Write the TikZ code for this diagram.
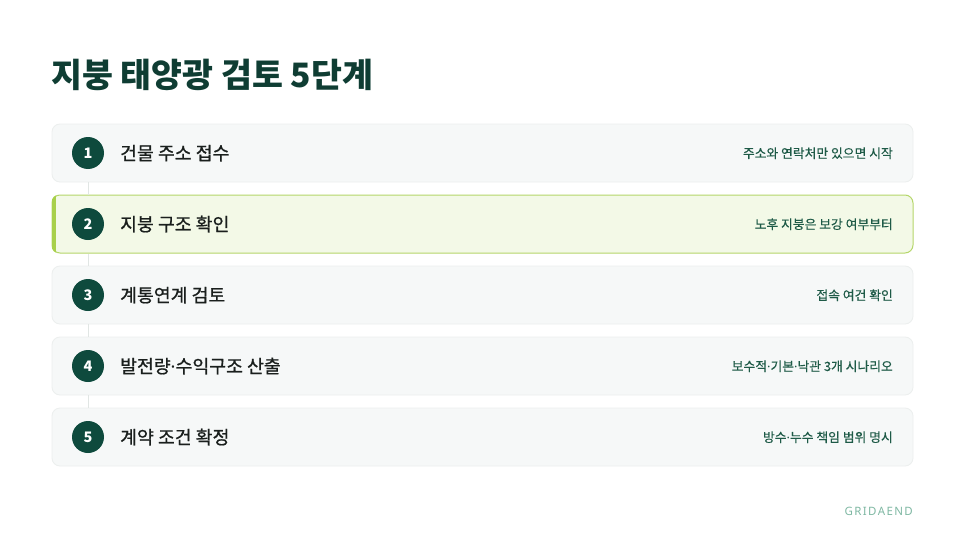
\documentclass[tikz,border=0pt]{standalone}
\usepackage{fontspec}
\setmainfont{Noto Sans CJK KR}
\newfontfamily\labfont[FakeBold=0.9]{Noto Sans CJK KR}
\newfontfamily\notefont[FakeBold=0.3]{Noto Sans CJK KR}
\newfontfamily\latinfont{Noto Sans}
\newfontfamily\brandfont[LetterSpace=12]{Noto Sans}
\newcommand\mdot{{\latinfont ·}}
\usetikzlibrary{calc}
\definecolor{titlecol}{HTML}{0F3D33}
\definecolor{circcol}{HTML}{0E4A3D}
\definecolor{labcol}{HTML}{1A1F1D}
\definecolor{notecol}{HTML}{1E5A47}
\definecolor{brandcol}{HTML}{7FB8A3}
\definecolor{boxfill}{HTML}{F6F8F8}
\definecolor{boxline}{HTML}{ECEFEE}
\definecolor{hifill}{HTML}{F3F9E7}
\definecolor{hiline}{HTML}{B5D66A}
\definecolor{hibar}{HTML}{A8D04A}
\definecolor{conncol}{HTML}{E1E6E4}
\tikzset{
  rowbox/.style={draw=boxline, line width=0.8pt, fill=boxfill, rounded corners=8pt,
    minimum width=861pt, minimum height=58pt, inner sep=0pt},
  hibox/.style={rowbox, draw=hiline, fill=hifill, line width=1pt},
  numcirc/.style={circle, fill=circcol, minimum size=32pt, inner sep=0pt,
    text=white, font=\bfseries\fontsize{14.5}{14.5}\selectfont},
  steplabel/.style={anchor=base west, inner sep=0pt, text=labcol,
    font=\labfont\fontsize{18.3}{18.3}\selectfont},
  steptext/.style={anchor=base east, inner sep=0pt, text=notecol,
    font=\notefont\fontsize{12.8}{12.8}\selectfont},
  conn/.style={draw=conncol, line width=1pt}
}
\begin{document}
\begin{tikzpicture}[x=1pt,y=-1pt]
\useasboundingbox[fill=white] (0,0) rectangle (966,551);
\node[anchor=base west, inner sep=0pt, text=titlecol, font=\bfseries\fontsize{33.6}{33.6}\selectfont] (title) at (51,88) {지붕 태양광 검토 5단계};
% boxes
\node[rowbox] (b1) at (482.5,153) {};
\node[hibox] (b2) at (482.5,224) {};
\begin{scope}
  \clip[rounded corners=8pt] (b2.south west) rectangle (b2.north east);
  \fill[hibar] (b2.south west) rectangle ($(b2.north west)+(4.5,0)$);
\end{scope}
\node[rowbox] (b3) at (482.5,295) {};
\node[rowbox] (b4) at (482.5,366) {};
\node[rowbox] (b5) at (482.5,437) {};
% circles
\node[numcirc] (c1) at (88,153) {1};
\node[numcirc] (c2) at (88,224) {2};
\node[numcirc] (c3) at (88,295) {3};
\node[numcirc] (c4) at (88,366) {4};
\node[numcirc] (c5) at (88,437) {5};
% connectors
\draw[conn] (c1 |- b1.south) -- (c2 |- b2.north);
\draw[conn] (c2 |- b2.south) -- (c3 |- b3.north);
\draw[conn] (c3 |- b3.south) -- (c4 |- b4.north);
\draw[conn] (c4 |- b4.south) -- (c5 |- b5.north);
% labels
\node[steplabel] (l1) at (120,160) {건물 주소 접수};
\node[steplabel] (l2) at (120,231) {지붕 구조 확인};
\node[steplabel] (l3) at (120,302) {계통연계 검토};
\node[steplabel] (l4) at (120,373) {발전량\mdot 수익구조 산출};
\node[steplabel] (l5) at (120,444) {계약 조건 확정};
% notes
\node[steptext] (n1) at (893,158) {주소와 연락처만 있으면 시작};
\node[steptext] (n2) at (893,229) {노후 지붕은 보강 여부부터};
\node[steptext] (n3) at (893,300) {접속 여건 확인};
\node[steptext] (n4) at (893,371) {보수적\mdot 기본\mdot 낙관 3개 시나리오};
\node[steptext] (n5) at (893,442) {방수\mdot 누수 책임 범위 명시};
\node[anchor=base east, inner sep=0pt, text=brandcol, font=\brandfont\fontsize{11.5}{11.5}\selectfont] (brand) at (913,515) {GRIDAEND};
\end{tikzpicture}
\end{document}
